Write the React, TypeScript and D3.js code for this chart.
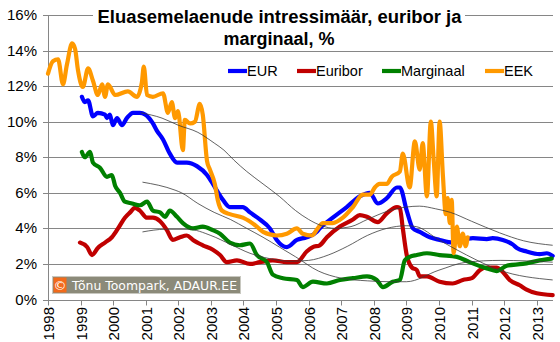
import React from 'react';
import * as d3 from 'd3';

type P = [number, number];

const yearTicks: number[] = [1998, 1999, 2000, 2001, 2002, 2003, 2004, 2005, 2006, 2007, 2008, 2009, 2010, 2011, 2012, 2013];
const yTicks: number[] = [0, 2, 4, 6, 8, 10, 12, 14, 16];

const titleLines: string[] = ['Eluasemelaenude intressimäär, euribor ja', 'marginaal, %'];
const seriesNames: string[] = ['EUR', 'Euribor', 'Marginaal', 'EEK'];
const seriesColors: string[] = ['#0000ff', '#c00000', '#008000', '#ff9900'];

const eurData: P[] = [
  [1999.04, 11.4], [1999.13, 11.1], [1999.23, 11.2], [1999.38, 10.3], [1999.53, 10.5], [1999.75, 10.4],
  [1999.81, 10.2], [1999.9, 10.4], [1999.99, 9.8], [2000.12, 10.2], [2000.27, 9.8], [2000.42, 10.2],
  [2000.61, 10.5], [2000.82, 10.5], [2000.98, 10.4], [2001.22, 9.9], [2001.34, 9.5], [2001.53, 9.0],
  [2001.74, 8.2], [2001.96, 7.7], [2002.26, 7.7], [2002.57, 7.5], [2002.88, 7.0], [2003.06, 6.5],
  [2003.37, 5.6], [2003.58, 5.2], [2003.98, 5.2], [2004.2, 4.9], [2004.5, 4.5], [2004.81, 4.0],
  [2005.02, 3.35], [2005.33, 2.95], [2005.64, 3.35], [2005.94, 3.5], [2006.25, 3.8], [2006.34, 4.0],
  [2006.74, 4.6], [2007.17, 5.2], [2007.57, 5.8], [2007.88, 6.0], [2008.12, 5.4], [2008.4, 5.7],
  [2008.71, 6.3], [2008.8, 6.3], [2009.01, 5.0], [2009.2, 4.0], [2009.41, 3.8], [2009.72, 3.5],
  [2010.02, 3.35], [2010.42, 3.2], [2010.85, 3.4], [2011.04, 3.45], [2011.47, 3.4], [2011.65, 3.45],
  [2011.96, 3.35], [2012.26, 3.1], [2012.39, 2.9], [2012.69, 2.7], [2013.09, 2.55], [2013.31, 2.6],
  [2013.49, 2.45],
];

const euriborData: P[] = [
  [1998.98, 3.2], [1999.2, 2.95], [1999.35, 2.5], [1999.53, 2.9], [1999.75, 3.2], [1999.96, 3.5],
  [2000.15, 4.0], [2000.36, 4.6], [2000.52, 4.9], [2000.67, 5.15], [2000.82, 5.0], [2001.04, 4.6],
  [2001.22, 4.6], [2001.44, 4.4], [2001.65, 3.9], [2001.83, 3.35], [2002.05, 3.5], [2002.26, 3.6],
  [2002.45, 3.35], [2002.75, 3.05], [2003.06, 2.8], [2003.28, 2.5], [2003.49, 2.1], [2003.8, 2.2],
  [2004.2, 2.0], [2004.5, 2.1], [2004.9, 2.2], [2005.33, 2.1], [2005.64, 2.1], [2005.94, 2.7],
  [2006.13, 2.95], [2006.34, 3.05], [2006.56, 3.5], [2006.96, 4.1], [2007.36, 4.5], [2007.57, 4.75],
  [2007.79, 4.65], [2008.12, 4.35], [2008.4, 4.85], [2008.71, 5.2], [2008.8, 5.15], [2008.89, 4.0],
  [2009.01, 2.5], [2009.17, 1.8], [2009.32, 1.65], [2009.41, 1.3], [2009.63, 1.3], [2010.02, 1.0],
  [2010.42, 0.9], [2010.73, 1.1], [2011.01, 1.2], [2011.25, 1.65], [2011.47, 1.8], [2011.77, 1.8],
  [2011.96, 1.55], [2012.17, 1.1], [2012.48, 0.8], [2012.69, 0.55], [2013.0, 0.35], [2013.49, 0.25],
];

const marginaalData: P[] = [
  [1999.04, 8.3], [1999.13, 8.0], [1999.29, 8.3], [1999.38, 7.7], [1999.6, 7.4], [1999.81, 6.9],
  [1999.96, 7.0], [2000.06, 6.4], [2000.21, 6.0], [2000.36, 5.5], [2000.58, 5.4], [2000.82, 5.3],
  [2001.04, 5.5], [2001.22, 5.0], [2001.44, 4.9], [2001.59, 4.65], [2001.74, 5.0], [2001.96, 4.65],
  [2002.14, 4.3], [2002.45, 4.0], [2002.75, 4.1], [2003.06, 3.9], [2003.28, 3.7], [2003.58, 3.2],
  [2003.89, 3.05], [2004.2, 3.15], [2004.41, 2.5], [2004.72, 2.1], [2004.9, 1.4], [2005.21, 1.2],
  [2005.64, 1.1], [2005.82, 0.7], [2006.13, 1.0], [2006.56, 0.9], [2006.96, 1.1], [2007.36, 1.2],
  [2007.79, 1.3], [2008.09, 1.1], [2008.28, 0.7], [2008.58, 1.0], [2008.8, 1.1], [2008.95, 2.2],
  [2009.1, 2.4], [2009.32, 2.5], [2009.63, 2.6], [2010.02, 2.5], [2010.55, 2.4], [2010.94, 2.1],
  [2011.47, 1.75], [2011.77, 1.6], [2012.08, 1.9], [2012.57, 2.0], [2013.09, 2.2], [2013.46, 2.3],
];

const eekData: P[] = [
  [1998.0, 12.7], [1998.15, 13.4], [1998.31, 13.5], [1998.46, 12.1], [1998.58, 13.2], [1998.74, 14.4],
  [1998.83, 14.1], [1998.92, 12.9], [1999.07, 11.95], [1999.23, 13.0], [1999.38, 12.3], [1999.53, 11.5],
  [1999.66, 12.1], [1999.75, 11.4], [1999.84, 12.1], [2000.06, 11.5], [2000.45, 11.7], [2000.73, 11.4],
  [2000.88, 12.2], [2000.94, 13.1], [2001.04, 11.5], [2001.22, 11.4], [2001.53, 11.6], [2001.68, 10.5],
  [2001.8, 11.1], [2001.9, 10.2], [2001.99, 10.6], [2002.14, 8.4], [2002.2, 10.1], [2002.36, 9.9],
  [2002.51, 10.0], [2002.66, 11.0], [2002.75, 10.4], [2002.88, 7.8], [2002.97, 7.3], [2003.12, 6.5],
  [2003.21, 5.6], [2003.34, 5.0], [2003.58, 4.8], [2003.98, 4.6], [2004.41, 4.1], [2004.6, 3.8],
  [2005.02, 3.6], [2005.33, 3.7], [2005.64, 4.0], [2005.82, 3.7], [2006.1, 3.6], [2006.28, 4.0],
  [2006.44, 4.3], [2006.74, 4.3], [2007.05, 4.6], [2007.36, 5.2], [2007.66, 5.9], [2007.88, 5.9],
  [2008.03, 6.3], [2008.18, 6.5], [2008.4, 6.5], [2008.55, 6.9], [2008.8, 7.2], [2008.89, 8.2],
  [2009.1, 6.3], [2009.26, 8.9], [2009.41, 7.3], [2009.5, 8.8], [2009.63, 5.8], [2009.75, 10.0],
  [2009.84, 7.8], [2009.93, 5.8], [2010.02, 10.0], [2010.12, 7.0], [2010.21, 4.8], [2010.27, 5.7],
  [2010.33, 4.3], [2010.39, 5.6], [2010.45, 2.6], [2010.55, 4.1], [2010.64, 3.0], [2010.73, 3.7],
  [2010.82, 3.0], [2010.88, 3.5],
];

const eurAvg: P[] = [
  [2000.85, 10.5], [2001.5, 10.2], [2002.0, 9.8], [2002.6, 9.4], [2003.1, 8.8], [2003.4, 8.4],
  [2003.7, 7.85], [2004.1, 7.2], [2004.6, 6.5], [2005.1, 5.8], [2005.6, 5.0], [2006.0, 4.5],
  [2006.4, 4.15], [2006.8, 4.0], [2007.3, 4.1], [2007.8, 4.5], [2008.4, 4.95], [2009.0, 5.2],
  [2009.4, 5.25], [2009.9, 5.1], [2010.35, 4.9], [2011.0, 4.4], [2011.86, 3.75], [2012.6, 3.3],
  [2013.49, 3.05],
];

const euriborAvg: P[] = [
  [2000.9, 3.8], [2001.6, 3.95], [2002.3, 3.95], [2003.0, 3.6], [2003.6, 3.1], [2004.2, 2.6],
  [2004.8, 2.3], [2005.4, 2.15], [2006.0, 2.2], [2006.6, 2.5], [2007.2, 3.0], [2007.8, 3.6],
  [2008.4, 4.0], [2009.0, 4.15], [2009.3, 4.1], [2010.0, 3.35], [2010.85, 2.5], [2011.86, 1.65],
  [2013.49, 1.1],
];

const marginaalAvg: P[] = [
  [2000.9, 6.6], [2001.9, 6.15], [2002.1, 6.0], [2002.6, 5.4], [2003.1, 4.9], [2003.6, 4.5],
  [2004.1, 4.0], [2004.6, 3.5], [2005.1, 2.95], [2005.6, 2.4], [2006.3, 1.6], [2007.0, 1.2],
  [2007.8, 1.05], [2008.5, 1.0], [2009.0, 1.0], [2010.0, 1.65], [2010.85, 2.1], [2011.9, 2.2],
  [2013.49, 2.1],
];

const copyrightText = 'Tõnu Toompark, ADAUR.EE';

const W = 560;
const H = 342;
const FONT = '"Liberation Sans", Arial, sans-serif';

export default function App() {
  const x = d3.scaleLinear().domain([1998, 2013.5]).range([48, 553]);
  const y = d3.scaleLinear().domain([0, 16]).range([299.5, 15]);
  const line = d3
    .line<P>()
    .x((d) => x(d[0]))
    .y((d) => y(d[1]))
    .curve(d3.curveMonotoneX);

  const mainSeries: P[][] = [eurData, euriborData, marginaalData, eekData];
  const avgSeries: P[][] = [eurAvg, euriborAvg, marginaalAvg];
  const gy = (v: number) => Math.round(y(v)) + 0.5;

  const legendX = [228, 297, 382, 485];

  return (
    <svg
      width={W}
      height={H}
      style={{ position: 'absolute', left: 0, top: 0, background: '#fff' }}
      fontFamily={FONT}
    >
      <rect x={0} y={0} width={W} height={H} fill="#fff" />
      {yTicks.map((t) => (
        <line key={'g' + t} x1={48} x2={553} y1={gy(t)} y2={gy(t)} stroke="#868686" strokeWidth={1} />
      ))}
      <line x1={48.5} x2={48.5} y1={gy(16)} y2={gy(0)} stroke="#868686" strokeWidth={1} />
      {yTicks.map((t) => (
        <g key={'yt' + t}>
          <line x1={43} x2={48} y1={gy(t)} y2={gy(t)} stroke="#868686" />
          <text x={37} y={y(t) + 5} textAnchor="end" fontSize={15} fill="#000">
            {t + '%'}
          </text>
        </g>
      ))}
      {yearTicks.map((yr) => {
        const px = Math.round(x(yr)) + 0.5;
        return (
          <g key={'xt' + yr}>
            <line x1={px} x2={px} y1={gy(0)} y2={gy(0) + 5} stroke="#868686" />
            <text
              transform={`translate(${px + 5.5},${307}) rotate(-90)`}
              textAnchor="end"
              fontSize={15}
              fill="#000"
            >
              {yr}
            </text>
          </g>
        );
      })}
      {mainSeries.map((s, i) => (
        <path
          key={'s' + i}
          d={line(s) || ''}
          fill="none"
          stroke={seriesColors[i]}
          strokeWidth={4.2}
          strokeLinejoin="round"
          strokeLinecap="round"
        />
      ))}
      {avgSeries.map((s, i) => (
        <path key={'a' + i} d={line(s) || ''} fill="none" stroke="#3a3a3a" strokeWidth={0.8} />
      ))}
      <rect x={93} y={5} width={372} height={20} fill="#fff" />
      <text
        x={279.5}
        y={23}
        textAnchor="middle"
        fontSize={17.5}
        fontWeight="bold"
        fill="#000"
        textLength={364}
        lengthAdjust="spacingAndGlyphs"
      >
        {titleLines[0]}
      </text>
      <text
        x={279}
        y={45}
        textAnchor="middle"
        fontSize={17.5}
        fontWeight="bold"
        fill="#000"
        textLength={111}
        lengthAdjust="spacingAndGlyphs"
      >
        {titleLines[1]}
      </text>
      {seriesNames.map((n, i) => (
        <g key={'l' + i}>
          <line x1={legendX[i]} x2={legendX[i] + 19} y1={71} y2={71} stroke={seriesColors[i]} strokeWidth={4.2} />
          <text x={legendX[i] + 19} y={76} fontSize={14.5} fill="#000">
            {n}
          </text>
        </g>
      ))}
      <rect x={52.5} y={276.5} width={188} height={17} fill="#8b8a79" stroke="#c8c8c0" />
      <rect x={53.5} y={277.5} width={13} height={15} fill="#f26a1b" />
      <text x={60} y={289.5} textAnchor="middle" fontSize={13} fill="#fff" fontFamily="DejaVu Sans">
        ©
      </text>
      <text x={72} y={289.5} fontSize={12.5} fill="#fff" fontFamily="DejaVu Sans" textLength={165} lengthAdjust="spacingAndGlyphs">
        {copyrightText}
      </text>
    </svg>
  );
}
